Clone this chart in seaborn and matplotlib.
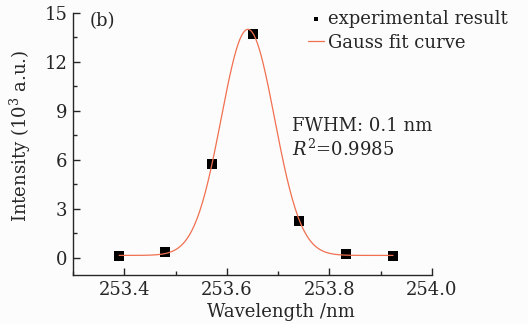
import numpy as np
import pandas as pd
import matplotlib
matplotlib.use("Agg")
import matplotlib.pyplot as plt
import seaborn as sns
from matplotlib.ticker import MultipleLocator

wavelength = [253.390, 253.480, 253.571, 253.651, 253.741, 253.833, 253.924]
intensity = [0.10, 0.37, 5.78, 13.70, 2.27, 0.25, 0.10]

# Gauss fit parameters (y0, A, xc, sigma)
y0 = 0.15
amp = 13.85
xc = 253.641
sigma = 0.052
fit_x = np.linspace(253.39, 253.924, 300)
fit_y = y0 + amp * np.exp(-(fit_x - xc) ** 2 / (2 * sigma ** 2))

points = pd.DataFrame({"wl": wavelength, "I": intensity})
curve = pd.DataFrame({"wl": fit_x, "I": fit_y})

sns.set_style("ticks")
plt.rcParams["font.family"] = ["DejaVu Serif"]
plt.rcParams["mathtext.fontset"] = "dejavuserif"
plt.rcParams["xtick.direction"] = "in"
plt.rcParams["ytick.direction"] = "in"

fig = plt.figure(figsize=(5.28, 3.24), dpi=100)
fig.patch.set_facecolor("#fcfcfc")
ax = fig.add_axes([73 / 528, 1 - 275 / 324, (432 - 73) / 528, (275 - 13) / 324])
ax.set_facecolor("#fcfcfc")

sns.scatterplot(data=points, x="wl", y="I", marker="s", s=48, color="black",
                edgecolor="black", linewidth=0, ax=ax, zorder=2,
                label="experimental result")
sns.lineplot(data=curve, x="wl", y="I", color="#f07050", linewidth=0.9,
             ax=ax, zorder=3, label="Gauss fit curve")

ax.set_xlim(253.3, 254.0)
ax.set_ylim(-1.05, 15)
ax.xaxis.set_major_locator(MultipleLocator(0.2))
ax.xaxis.set_minor_locator(MultipleLocator(0.1))
ax.yaxis.set_major_locator(MultipleLocator(3))
ax.yaxis.set_minor_locator(MultipleLocator(1.5))
ax.tick_params(which="major", length=5, width=1, labelsize=13, pad=4)
ax.tick_params(which="minor", length=3, width=1)
ax.set_xticks([253.4, 253.6, 253.8, 254.0])
ax.set_xticklabels(["253.4", "253.6", "253.8", "254.0"])
sns.despine(ax=ax)
for s in ["left", "bottom"]:
    ax.spines[s].set_linewidth(1)

ax.set_xlabel("Wavelength /nm", fontsize=13)
ax.set_ylabel("Intensity (10$^3$ a.u.)", fontsize=13)
ax.xaxis.set_label_coords(0.58, -0.107)
ax.yaxis.set_label_coords(-0.112, 0.53)

ax.text(0.047, 0.969, "(b)", transform=ax.transAxes, fontsize=13, va="center")
ax.text(253.727, 8.05, "FWHM: 0.1 nm", fontsize=13, va="center")
ax.text(253.727, 6.65, "$R^2$=0.9985", fontsize=13, va="center")

ax.legend(loc="upper left", bbox_to_anchor=(0.63, 1.045), frameon=False,
          fontsize=13, handlelength=0.9, handletextpad=0.2, borderpad=0,
          labelspacing=0.3, markerscale=0.5)

fig.savefig("out.png", dpi=100, facecolor=fig.get_facecolor())
